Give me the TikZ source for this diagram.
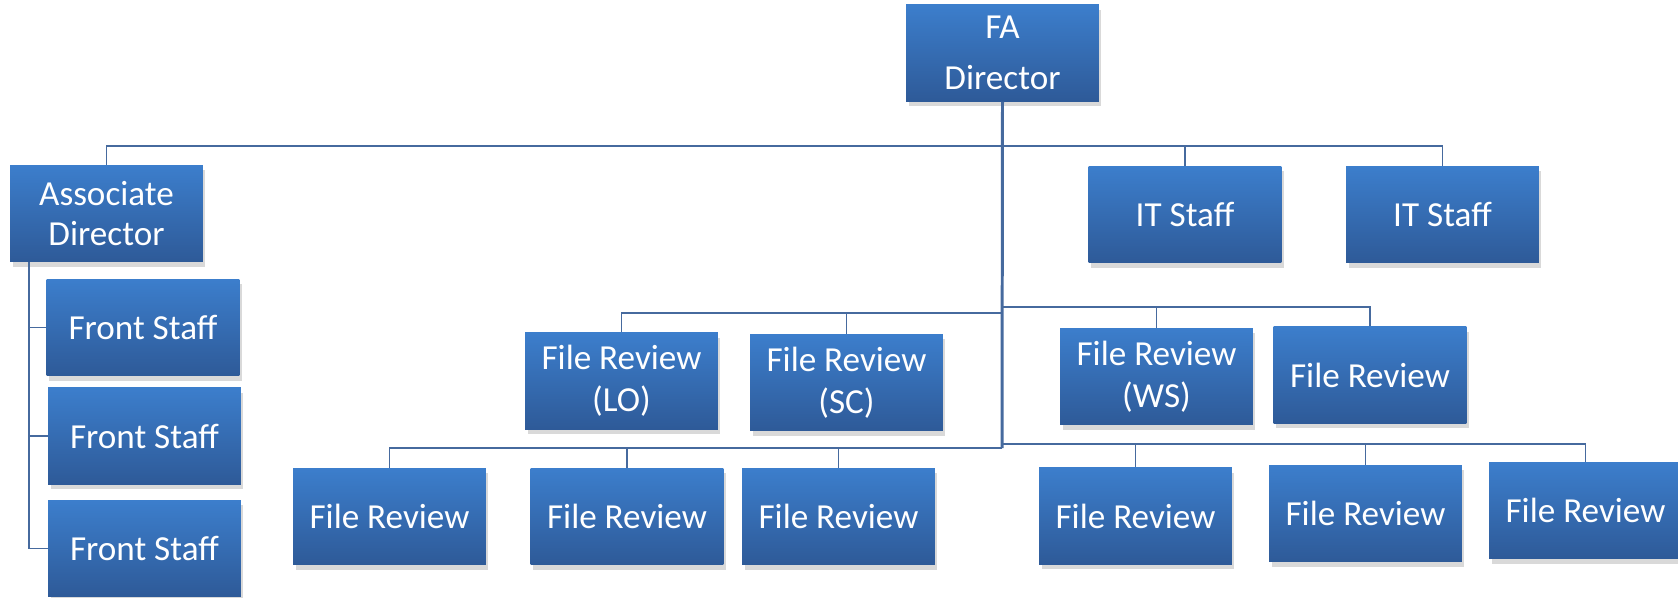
\documentclass[tikz,border=0pt]{standalone}
\usepackage{fontspec}
\setmainfont{Carlito}
\usepackage{tikz}
\usetikzlibrary{shadows}
\usetikzlibrary{positioning}

\definecolor{boxtop}{RGB}{60,126,204}
\definecolor{boxbot}{RGB}{46,90,152}
\definecolor{linkcol}{RGB}{70,106,158}

\begin{document}
\begin{tikzpicture}[x=0.02cm,y=-0.02cm,
    box/.style={rectangle,top color=boxtop,bottom color=boxbot,draw=none,
        text=white,align=center,inner sep=0pt,
        minimum width=3.86cm,minimum height=1.93cm,
        font=\fontsize{20}{23}\selectfont,
        drop shadow={opacity=0.3,shadow xshift=0.05cm,shadow yshift=-0.1cm}},
    link/.style={draw=linkcol,line width=1.1pt},
    trunk/.style={draw=linkcol,line width=1.7pt}]
    \useasboundingbox (0,0) rectangle (1678,598);

    % Director and associate
    \node [box] (fa) at (1002.5,53) {FA\\[6pt]Director};
    \node [box] (ad) at (106.5,213.5) {Associate\\Director};
    \node [box] (fs1) at (143,327.5) {Front Staff};
    \node [box] (fs2) at (144.5,436) {Front Staff};
    \node [box] (fs3) at (144.5,548.5) {Front Staff};

    % IT staff
    \node [box] (it1) at (1185,214.5) {IT Staff};
    \node [box] (it2) at (1442.5,214.5) {IT Staff};

    % File review, middle row
    \node [box] (lo) at (621.5,381) {File Review\\[1pt](LO)};
    \node [box] (sc) at (846.5,382.5) {File Review\\[1pt](SC)};
    \node [box] (ws) at (1156.5,376.5) {File Review\\[1pt](WS)};
    \node [box] (fr) at (1370,375) {File Review};

    % File review, bottom row
    \node [box] (b1) at (389.5,516.5) {File Review};
    \node [box] (b2) at (627,516.5) {File Review};
    \node [box] (b3) at (838.5,516.5) {File Review};
    \node [box] (b4) at (1135.5,516) {File Review};
    \node [box] (b5) at (1365.5,513.5) {File Review};
    \node [box] (b6) at (1585.5,510.5) {File Review};

    % Connectors
    \coordinate (topbus) at (1002,146);
    \coordinate (midL) at (1002,313);
    \coordinate (midR) at (1002,307);
    \coordinate (lowL) at (1002,448);
    \coordinate (lowR) at (1002,444);
    \coordinate (adleg) at (29,262);

    \draw [trunk] (fa.south) -- (lowL);
    \draw [link] (topbus) -| (ad.north);
    \draw [link] (topbus) -| (it1.north);
    \draw [link] (topbus) -| (it2.north);
    \draw [link] (adleg) |- (fs1.west);
    \draw [link] (adleg) |- (fs2.west);
    \draw [link] (adleg) |- (fs3.west);
    \draw [link] (midL) -| (lo.north);
    \draw [link] (midL) -| (sc.north);
    \draw [link] (midR) -| (ws.north);
    \draw [link] (midR) -| (fr.north);
    \draw [link] (lowL) -| (b1.north);
    \draw [link] (lowL) -| (b2.north);
    \draw [link] (lowL) -| (b3.north);
    \draw [link] (lowR) -| (b4.north);
    \draw [link] (lowR) -| (b5.north);
    \draw [link] (lowR) -| (b6.north);
\end{tikzpicture}
\end{document}
